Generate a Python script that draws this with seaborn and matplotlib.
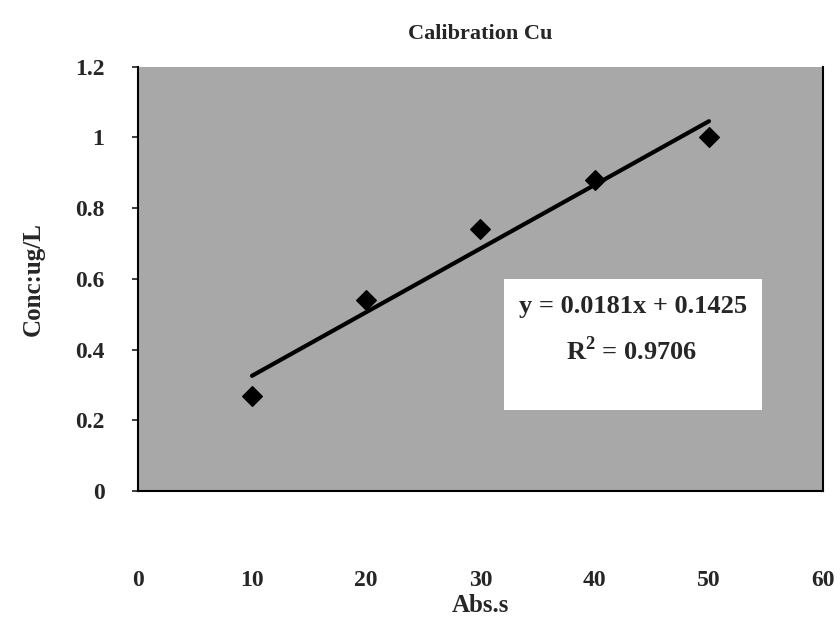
import matplotlib
matplotlib.use('Agg')
import matplotlib.pyplot as plt
import seaborn as sns
import pandas as pd
from matplotlib.patches import Rectangle

# calibration points
abs_s = [10, 20, 30, 40, 50]
conc = [0.27, 0.54, 0.74, 0.88, 1.0]
x_ticks = [0, 10, 20, 30, 40, 50, 60]
y_ticks = [0, 0.2, 0.4, 0.6, 0.8, 1.0, 1.2]
y_tick_labels = ['0', '0.2', '0.4', '0.6', '0.8', '1', '1.2']
eq_text = 'y = 0.0181x + 0.1425'
r2_text = 'R$^{2}$ = 0.9706'

sns.set_theme(style='white')
plt.rcParams['font.family'] = ['Liberation Serif', 'DejaVu Serif']
plt.rcParams['mathtext.fontset'] = 'custom'
plt.rcParams['mathtext.rm'] = 'Liberation Serif:bold'

df = pd.DataFrame({'Abs.s': abs_s, 'Conc': conc})

fig = plt.figure(figsize=(8.4, 6.24), dpi=100)
ax = fig.add_axes([0.164, 0.213, 0.816, 0.68])
ax.set_facecolor('#a8a8a8')

sns.regplot(data=df, x='Abs.s', y='Conc', ax=ax, ci=None, truncate=True,
            marker='D', color='black',
            scatter_kws={'s': 100, 'alpha': 1, 'zorder': 3},
            line_kws={'linewidth': 3, 'zorder': 2})

ax.set_xlim(0, 60)
ax.set_ylim(0, 1.2)
ax.set_xticks(x_ticks)
ax.set_xticklabels([str(t) for t in x_ticks], fontsize=17, fontweight='bold')
ax.set_yticks(y_ticks)
ax.set_yticklabels(y_tick_labels, fontsize=17, fontweight='bold')
ax.tick_params(axis='x', length=0, pad=57)
ax.tick_params(axis='y', length=4, pad=20, left=True, direction='out')

for side in ['left', 'bottom', 'right']:
    ax.spines[side].set_visible(True)
    ax.spines[side].set_color('black')
    ax.spines[side].set_linewidth(1.5)
ax.spines['top'].set_visible(False)

ax.set_xlabel('Abs.s', fontsize=18, fontweight='bold', labelpad=2)
ax.set_ylabel('Conc:ug/L', fontsize=18, fontweight='bold', labelpad=22)
ax.set_title('Calibration Cu', fontsize=16, fontweight='bold', pad=20)

# white box behind the equation
ax.add_patch(Rectangle((0.535, 0.19), 0.375, 0.31, transform=ax.transAxes,
                       facecolor='white', edgecolor='none', zorder=1))
ax.text(0.722, 0.435, eq_text, transform=ax.transAxes, ha='center', va='center',
        fontsize=19, fontweight='bold', zorder=4)
ax.text(0.72, 0.33, r2_text, transform=ax.transAxes, ha='center', va='center',
        fontsize=19, fontweight='bold', zorder=4)

fig.savefig('out.png', dpi=100)
